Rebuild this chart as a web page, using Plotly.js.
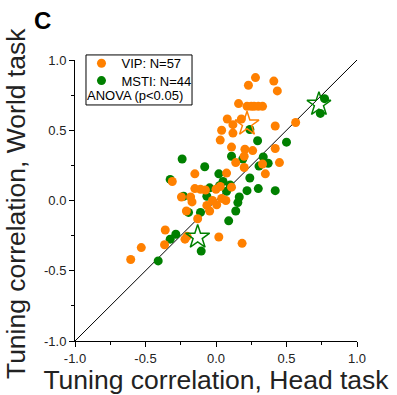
<!DOCTYPE html>
<html>
<head>
<meta charset="utf-8">
<script src="https://cdn.plot.ly/plotly-3.0.1.min.js"></script>
<style>html,body{margin:0;padding:0;background:#fff;}#chart{width:397px;height:395px;}</style>
</head>
<body>
<div id="chart"></div>
<script>
// VIP (orange) neurons: Head-task vs World-task tuning correlation
const vipHead = [0.28,0.41,0.23,0.435,0.16,0.22,0.25,0.27,0.30,0.33,0.08,0.18,0.12,0.04,0.12,0.42,0.565,0.03,0.11,0.205,0.26,0.42,0.20,0.14,0.33,0.45,0.20,0.35,0.11,-0.15,0.075,-0.31,-0.15,-0.11,-0.075,0.0,0.03,-0.245,-0.18,-0.17,-0.025,0.04,0.07,-0.065,0.005,-0.21,-0.045,-0.13,-0.36,-0.205,-0.22,0.02,-0.365,-0.53,0.185,-0.605];
const vipWorld = [0.875,0.85,0.82,0.78,0.69,0.67,0.67,0.67,0.67,0.67,0.58,0.58,0.54,0.50,0.48,0.53,0.555,0.43,0.38,0.365,0.355,0.37,0.315,0.27,0.26,0.27,0.235,0.19,0.095,0.19,0.195,0.135,0.085,0.08,0.075,0.08,0.10,0.025,0.025,-0.01,0.0,0.015,0.0,-0.035,-0.03,-0.075,-0.075,-0.13,-0.21,-0.255,-0.275,-0.26,-0.315,-0.335,-0.305,-0.42];
// MSTI (green) neurons
const mstiHead = [0.77,0.74,0.24,0.295,0.50,-0.24,0.11,0.335,0.19,0.305,0.37,0.24,0.22,0.30,0.42,0.165,-0.08,0.02,-0.325,0.05,0.10,0.025,-0.045,0.075,-0.23,-0.065,0.155,-0.195,-0.11,0.14,0.09,-0.285,-0.325,-0.105,-0.41];
const mstiWorld = [0.725,0.62,0.505,0.425,0.415,0.295,0.315,0.31,0.295,0.245,0.265,0.16,0.07,0.085,0.07,0.025,0.24,0.19,0.15,0.135,0.11,0.105,0.09,0.065,0.03,0.03,-0.015,-0.085,-0.085,-0.075,-0.145,-0.24,-0.275,-0.36,-0.43];
// Example neurons (stars)
const vipStarHead = [0.22];
const vipStarWorld = [0.545];
const mstiStarHead = [0.73,-0.13];
const mstiStarWorld = [0.685,-0.26];
// Unity line
const unityX = [-1, 1];
const unityY = [-1, 1];
// Tick labels
const tickVals = [-1.0,-0.5,0.0,0.5,1.0];
const tickText = ["-1.0","-0.5","0.0","0.5","1.0"];
const minorVals = [-0.75,-0.25,0.25,0.75];

const ORANGE = 'rgb(255,128,0)';
const GREEN = 'rgb(0,128,0)';
const FONT = 'Liberation Sans, Arial, sans-serif';

const traces = [
  {x: unityX, y: unityY, mode: 'lines', line: {color: '#000', width: 1}, showlegend: false, hoverinfo: 'skip'},
  {x: mstiHead, y: mstiWorld, mode: 'markers', name: 'MSTI: N=44', marker: {color: GREEN, size: 9}, legend: 'legend2'},
  {x: vipHead, y: vipWorld, mode: 'markers', name: 'VIP: N=57', marker: {color: ORANGE, size: 9}, legend: 'legend'},
  {x: vipStarHead, y: vipStarWorld, mode: 'markers', showlegend: false, marker: {symbol: 'star-open', color: ORANGE, size: 18, line: {width: 1.5, color: ORANGE}}},
  {x: mstiStarHead, y: mstiStarWorld, mode: 'markers', showlegend: false, marker: {symbol: 'star-open', color: GREEN, size: 18, line: {width: 1.5, color: GREEN}}}
];

const axisCommon = {
  range: [-1, 1],
  tickmode: 'array', tickvals: tickVals, ticktext: tickText,
  ticks: 'outside', ticklen: 5, tickwidth: 1, tickcolor: '#000',
  minor: {tickmode: 'array', tickvals: minorVals, ticks: 'outside', ticklen: 3, tickcolor: '#000', showgrid: false},
  showline: true, linecolor: '#000', linewidth: 1, mirror: false,
  showgrid: false, zeroline: false,
  tickfont: {family: FONT, size: 13, color: '#222'},
  fixedrange: true
};

const legendCommon = {xanchor: 'left', yanchor: 'top', bgcolor: 'rgba(0,0,0,0)', borderwidth: 0,
                      font: {family: FONT, size: 13, color: '#000'}};

const layout = {
  width: 397, height: 395,
  margin: {l: 75, r: 40, t: 60, b: 54},
  paper_bgcolor: '#fff', plot_bgcolor: '#fff',
  font: {family: FONT, color: '#222'},
  xaxis: Object.assign({}, axisCommon, {title: {text: 'Tuning correlation, Head task', font: {family: FONT, size: 26.5, color: '#222'}, standoff: 5}}),
  yaxis: Object.assign({}, axisCommon),
  showlegend: true,
  legend: Object.assign({}, legendCommon, {x: 0.023, y: 1.0416}),
  legend2: Object.assign({}, legendCommon, {x: 0.023, y: 0.980}),
  shapes: [{type: 'rect', xref: 'paper', yref: 'paper', x0: 0.039, x1: 0.415, y0: 0.840, y1: 1.018,
            line: {color: '#000', width: 1}, fillcolor: 'rgba(0,0,0,0)', layer: 'above'}],
  annotations: [
    {text: 'Tuning correlation, World task', xref: 'paper', yref: 'paper', x: -0.209, y: 0.4875, xanchor: 'center', yanchor: 'middle',
     textangle: -90, showarrow: false, font: {family: FONT, size: 26.5, color: '#222'}},
    {text: 'ANOVA (p<0.05)', xref: 'paper', yref: 'paper', x: 0.036, y: 0.872, xanchor: 'left', yanchor: 'middle',
     showarrow: false, font: {family: FONT, size: 13, color: '#000'}},
    {text: '<b>C</b>', xref: 'paper', yref: 'paper', x: -0.115, y: 1.1406, xanchor: 'center', yanchor: 'middle',
     showarrow: false, font: {family: FONT, size: 24, color: '#000'}}
  ]
};

Plotly.newPlot('chart', traces, layout, {staticPlot: true, displayModeBar: false});
</script>
</body>
</html>
